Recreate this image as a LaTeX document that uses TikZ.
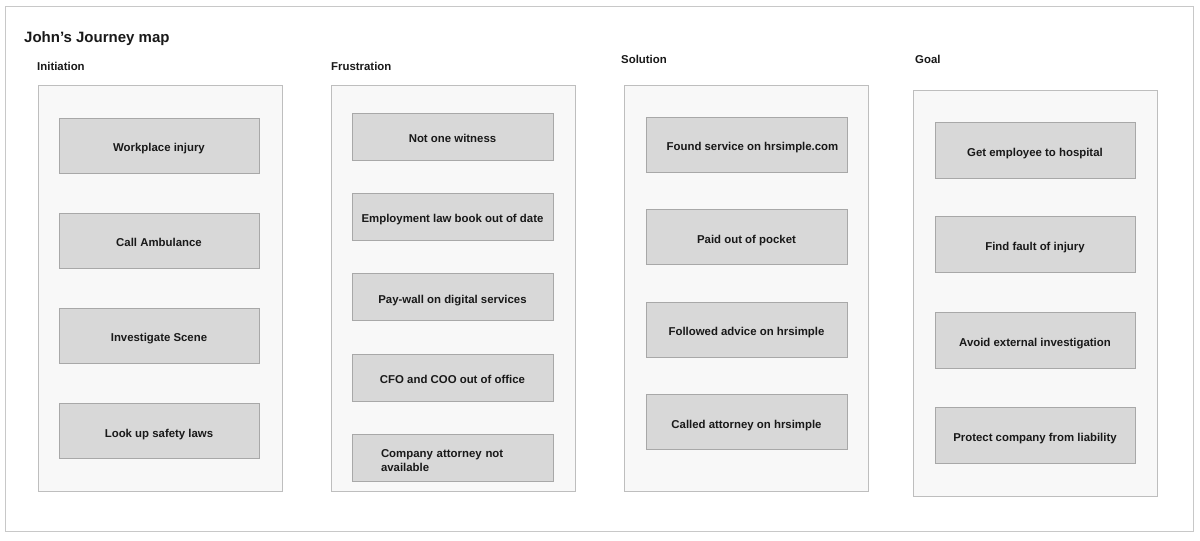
\documentclass[tikz,border=0pt]{standalone}
\usepackage{fontspec}
\setmainfont{Liberation Sans}
\definecolor{framegray}{RGB}{200,200,200}
\definecolor{panelfill}{RGB}{248,248,248}
\definecolor{paneldraw}{RGB}{190,190,190}
\definecolor{cardfill}{RGB}{216,216,216}
\definecolor{carddraw}{RGB}{168,168,168}
\definecolor{inkgray}{RGB}{25,25,25}
\begin{document}
\begin{tikzpicture}[x=1pt,y=-1pt,
    panel/.style={draw=paneldraw,fill=panelfill,rectangle,minimum width=244pt,minimum height=406pt,inner sep=0pt},
    card/.style={draw=carddraw,fill=cardfill,rectangle,minimum width=200pt,inner sep=0pt,text height=12pt,text depth=0pt,text=inkgray,font=\fontsize{11.4}{13.5}\selectfont\bfseries},
    phase/.style={anchor=west,inner sep=0pt,text=inkgray,font=\fontsize{11.4}{13.5}\selectfont\bfseries}]
        %% Frame
        \useasboundingbox (0,0) rectangle (1200,541);
        \draw[framegray,fill=white] (5,6) rectangle (1193,531);
        \node[anchor=west,inner sep=0pt,text=inkgray,font=\fontsize{15}{18}\selectfont\bfseries] (title) at (24,38.5) {John\symbol{39}s Journey map};
        %% Initiation
        \node[phase] (initiation) at (37,66) {Initiation};
        \node[panel] (P1) at (160,288) {};
        \node[card,minimum height=55pt] (workplace) at (159,145.5) {Workplace injury};
        \node[card,minimum height=55pt] (ambulance) at (159,240.5) {Call Ambulance};
        \node[card,minimum height=55pt] (scene) at (159,335.5) {Investigate Scene};
        \node[card,minimum height=55pt] (safety) at (159,431) {Look up safety laws};
        %% Frustration
        \node[phase] (frustration) at (331,66) {Frustration};
        \node[panel] (P2) at (453,288) {};
        \node[card,minimum width=201pt,minimum height=47pt] (witness) at (452.5,136.5) {Not one witness};
        \node[card,minimum width=201pt,minimum height=47pt] (lawbook) at (452.5,216.5) {Employment law book out of date};
        \node[card,minimum width=201pt,minimum height=47pt] (paywall) at (452.5,297) {Pay-wall on digital services};
        \node[card,minimum width=201pt,minimum height=47pt] (office) at (452.5,377.5) {CFO and COO out of office};
        \node[card,minimum width=201pt,minimum height=47pt,text height=0pt,inner xsep=29pt,text width=143pt,align=left] (attorney) at (452.5,457.5) {Company attorney not\\available};
        %% Solution
        \node[phase] (solution) at (621,59) {Solution};
        \node[panel] (P3) at (746,288) {};
        \node[card,minimum width=201pt,minimum height=55pt] (found) at (746.5,144.5) {\hspace{12pt}Found service on hrsimple.com};
        \node[card,minimum width=201pt,minimum height=55pt] (paid) at (746.5,237) {Paid out of pocket};
        \node[card,minimum width=201pt,minimum height=55pt] (advice) at (746.5,329.5) {Followed advice on hrsimple};
        \node[card,minimum width=201pt,minimum height=55pt] (called) at (746.5,422) {Called attorney on hrsimple};
        %% Goal
        \node[phase] (goal) at (915,59) {Goal};
        \node[panel] (P4) at (1035,293) {};
        \node[card,minimum height=56pt] (hospital) at (1035,150) {Get employee to hospital};
        \node[card,minimum height=56pt] (fault) at (1035,244.5) {Find fault of injury};
        \node[card,minimum height=56pt] (external) at (1035,340) {Avoid external investigation};
        \node[card,minimum height=56pt] (liability) at (1035,435.5) {Protect company from liability};
    \end{tikzpicture}
\end{document}
